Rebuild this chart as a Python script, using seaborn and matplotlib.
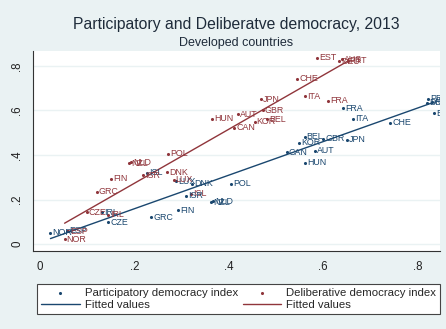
import numpy as np
import pandas as pd
import matplotlib
matplotlib.use("Agg")
import matplotlib.pyplot as plt
import seaborn as sns

# Democracy indices for developed countries, 2013
countries = ["EST", "AUS", "DEU", "PRT", "CHE", "ITA", "FRA", "JPN", "GBR",
             "AUT", "HUN", "KOR", "BEL", "CAN", "POL", "DNK", "LUX", "ISL",
             "ISR", "NZL", "NLD", "FIN", "GRC", "CZE", "IRL", "ESP", "NOR"]
participatory = [0.587, 0.640, 0.634, 0.652, 0.545, 0.562, 0.610, 0.468, 0.472,
                 0.420, 0.365, 0.455, 0.482, 0.412, 0.272, 0.270, 0.283, 0.320,
                 0.218, 0.188, 0.193, 0.151, 0.120, 0.099, 0.144, 0.060, 0.052]
deliberative = [0.836, 0.830, 0.820, 0.823, 0.743, 0.664, 0.643, 0.651, 0.600,
                0.582, 0.562, 0.550, 0.561, 0.523, 0.405, 0.323, 0.288, 0.227,
                0.310, 0.362, 0.367, 0.293, 0.236, 0.144, 0.131, 0.058, 0.022]

x_ticks = [0, 0.2, 0.4, 0.6, 0.8]
x_tick_labels = ["0", ".2", ".4", ".6", ".8"]
y_ticks = [0, 0.2, 0.4, 0.6, 0.8]
y_tick_labels = ["0", ".2", ".4", ".6", ".8"]

df = pd.DataFrame({"country": countries,
                   "participatory": participatory,
                   "deliberative": deliberative})

BLUE = "#1a476f"
RED = "#90353b"
BG = "#eaf2f3"

sns.set_style("white")
plt.rcParams["font.family"] = ["Liberation Sans", "DejaVu Sans"]

fig = plt.figure(figsize=(4.46, 3.29), dpi=100, facecolor=BG)
ax = fig.add_axes([33 / 446, 1 - 251 / 329, (440 - 33) / 446, (251 - 51) / 329])
ax.set_facecolor("white")

# Participatory index against deliberative, and the reverse
sns.scatterplot(data=df, x="deliberative", y="participatory", ax=ax,
                color=BLUE, s=5, linewidth=0, label="Participatory democracy index")
sns.regplot(data=df, x="deliberative", y="participatory", ax=ax, scatter=False,
            ci=None, truncate=True, color=BLUE, line_kws={"lw": 1.0},
            label="Fitted values")
sns.scatterplot(data=df, x="participatory", y="deliberative", ax=ax,
                color=RED, s=5, linewidth=0, label="Deliberative democracy index")
sns.regplot(data=df, x="participatory", y="deliberative", ax=ax, scatter=False,
            ci=None, truncate=True, color=RED, line_kws={"lw": 1.0},
            label="Fitted values")

for _, row in df.iterrows():
    ax.annotate(row["country"], (row["deliberative"], row["participatory"]),
                xytext=(1.5, 0), textcoords="offset points", va="center",
                ha="left", fontsize=6.4, color=BLUE, annotation_clip=True,
                clip_on=True)
    ax.annotate(row["country"], (row["participatory"], row["deliberative"]),
                xytext=(1.5, 0), textcoords="offset points", va="center",
                ha="left", fontsize=6.4, color=RED, annotation_clip=True,
                clip_on=True)

ax.set_xlim(-0.015, 0.848)
ax.set_ylim(-0.031, 0.867)
ax.set_xticks(x_ticks)
ax.set_xticklabels(x_tick_labels)
ax.set_yticks(y_ticks)
ax.set_yticklabels(y_tick_labels, rotation=90, va="center")
ax.tick_params(axis="both", direction="out", length=4, width=0.8,
               labelsize=8.3, colors="#222222", pad=3)
ax.yaxis.grid(True, color=BG, lw=1.0)
ax.xaxis.grid(False)
ax.set_axisbelow(True)
for side in ("top", "right"):
    ax.spines[side].set_visible(False)
for side in ("left", "bottom"):
    ax.spines[side].set_color("#333333")
    ax.spines[side].set_linewidth(0.8)
ax.set_xlabel("")
ax.set_ylabel("")

handles, labels = ax.get_legend_handles_labels()
if ax.legend_:
    ax.legend_.remove()
leg = fig.legend(handles, labels, ncol=2, loc="upper left",
                 bbox_to_anchor=(37 / 446, 1 - 284 / 329), borderaxespad=0,
                 fontsize=8.2, frameon=True, fancybox=False,
                 edgecolor="#444444", facecolor="white", framealpha=1,
                 handlelength=3.4, handletextpad=0.45, columnspacing=0.4,
                 borderpad=0.35, labelspacing=0.2, markerscale=1.0)
leg.get_frame().set_linewidth(0.8)

fig.text(236 / 446, 1 - 24 / 329, "Participatory and Deliberatve democracy, 2013",
         ha="center", va="center", fontsize=11.3, color="#1e2b3a")
fig.text(236 / 446, 1 - 43 / 329, "Developed countries",
         ha="center", va="center", fontsize=9.0, color="#1e2b3a")

fig.savefig("out.png", dpi=100, facecolor=BG)
